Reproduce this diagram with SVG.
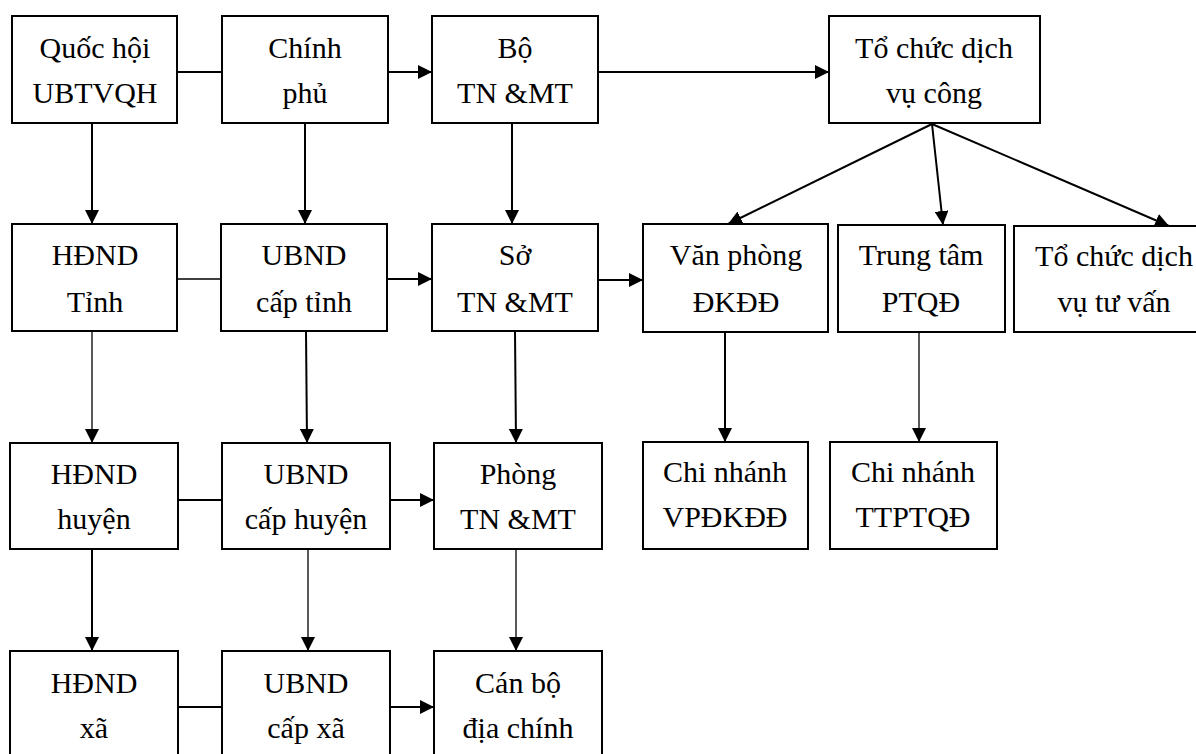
<svg xmlns="http://www.w3.org/2000/svg" width="1196" height="754" viewBox="0 0 1196 754" font-family="Liberation Serif" font-size="30" text-anchor="middle">
<defs>
<style>
.box{fill:#fff;stroke:#000;stroke-width:2}
.c{fill:none;stroke:#000;stroke-width:2}
.thin{fill:none;stroke:#000;stroke-width:1.3}
</style>
<marker id="ah" markerWidth="14" markerHeight="14" viewBox="0 0 14 14" refX="14" refY="7" orient="auto" markerUnits="userSpaceOnUse">
<path d="M0,0 L14,7 L0,14 Z" fill="#000"/>
</marker>
</defs>
<rect width="1196" height="754" fill="#fff"/>
<g id="connectors">
<line class="c" x1="177" y1="72" x2="222" y2="72"/>
<line class="c" x1="388" y1="72" x2="432" y2="72" marker-end="url(#ah)"/>
<line class="c" x1="598" y1="72" x2="829" y2="72" marker-end="url(#ah)"/>
<line class="thin" x1="177" y1="279" x2="221" y2="279"/>
<line class="c" x1="387" y1="279" x2="432" y2="279" marker-end="url(#ah)"/>
<line class="c" x1="598" y1="280" x2="643" y2="280" marker-end="url(#ah)"/>
<line class="c" x1="178" y1="500" x2="222" y2="500"/>
<line class="c" x1="390" y1="500" x2="434" y2="500" marker-end="url(#ah)"/>
<line class="c" x1="178" y1="707" x2="222" y2="707"/>
<line class="c" x1="390" y1="707" x2="434" y2="707" marker-end="url(#ah)"/>
<line class="c" x1="92" y1="123" x2="92" y2="224" marker-end="url(#ah)"/>
<line class="c" x1="305" y1="123" x2="305" y2="224" marker-end="url(#ah)"/>
<line class="c" x1="512" y1="123" x2="512" y2="224" marker-end="url(#ah)"/>
<line class="thin" x1="92" y1="331" x2="92" y2="443" marker-end="url(#ah)"/>
<line class="c" x1="306" y1="331" x2="307" y2="443" marker-end="url(#ah)"/>
<line class="c" x1="515" y1="331" x2="516" y2="443" marker-end="url(#ah)"/>
<line class="c" x1="92" y1="549" x2="92" y2="651" marker-end="url(#ah)"/>
<line class="thin" x1="308" y1="549" x2="308" y2="651" marker-end="url(#ah)"/>
<line class="thin" x1="516" y1="549" x2="516" y2="651" marker-end="url(#ah)"/>
<line class="c" x1="725" y1="332" x2="725" y2="442" marker-end="url(#ah)"/>
<line class="thin" x1="919" y1="332" x2="919" y2="442" marker-end="url(#ah)"/>
<line class="c" x1="932" y1="124" x2="728" y2="224" marker-end="url(#ah)"/>
<line class="c" x1="932" y1="124" x2="943" y2="225" marker-end="url(#ah)"/>
<line class="c" x1="932" y1="124" x2="1169" y2="226" marker-end="url(#ah)"/>
</g>
<g id="quochoi"><rect class="box" x="12" y="16" width="165" height="107"/><text x="95" y="58">Quốc hội</text><text x="95" y="103">UBTVQH</text></g>
<g id="chinhphu"><rect class="box" x="222" y="16" width="166" height="107"/><text x="305" y="58">Chính</text><text x="305" y="103">phủ</text></g>
<g id="botnmt"><rect class="box" x="432" y="16" width="166" height="107"/><text x="515" y="58">Bộ</text><text x="515" y="103">TN &amp;MT</text></g>
<g id="tochucdvc"><rect class="box" x="829" y="16" width="211" height="107"/><text x="934" y="58">Tổ chức dịch</text><text x="934" y="103">vụ công</text></g>
<g id="hdndtinh"><rect class="box" x="12" y="224" width="165" height="107"/><text x="95" y="265">HĐND</text><text x="95" y="312">Tỉnh</text></g>
<g id="ubndtinh"><rect class="box" x="221" y="224" width="166" height="107"/><text x="304" y="265">UBND</text><text x="304" y="312">cấp tỉnh</text></g>
<g id="sotnmt"><rect class="box" x="432" y="224" width="166" height="107"/><text x="515" y="265">Sở</text><text x="515" y="312">TN &amp;MT</text></g>
<g id="vanphong"><rect class="box" x="643" y="224" width="185" height="108"/><text x="736" y="265">Văn phòng</text><text x="736" y="312">ĐKĐĐ</text></g>
<g id="trungtam"><rect class="box" x="838" y="225" width="167" height="107"/><text x="921" y="265">Trung tâm</text><text x="921" y="312">PTQĐ</text></g>
<g id="tochuctuvan"><rect class="box" x="1014" y="226" width="200" height="106"/><text x="1114" y="266">Tổ chức dịch</text><text x="1114" y="312">vụ tư vấn</text></g>
<g id="hdndhuyen"><rect class="box" x="10" y="443" width="168" height="106"/><text x="94" y="484">HĐND</text><text x="94" y="529">huyện</text></g>
<g id="ubndhuyen"><rect class="box" x="222" y="443" width="168" height="106"/><text x="306" y="484">UBND</text><text x="306" y="529">cấp huyện</text></g>
<g id="phongtnmt"><rect class="box" x="434" y="443" width="168" height="106"/><text x="518" y="484">Phòng</text><text x="518" y="529">TN &amp;MT</text></g>
<g id="cnvpdkdd"><rect class="box" x="643" y="442" width="165" height="107"/><text x="725" y="482">Chi nhánh</text><text x="725" y="527">VPĐKĐĐ</text></g>
<g id="cnttptqd"><rect class="box" x="830" y="442" width="167" height="107"/><text x="913" y="482">Chi nhánh</text><text x="913" y="527">TTPTQĐ</text></g>
<g id="hdndxa"><rect class="box" x="10" y="651" width="168" height="120"/><text x="94" y="693">HĐND</text><text x="94" y="738">xã</text></g>
<g id="ubndxa"><rect class="box" x="222" y="651" width="168" height="120"/><text x="306" y="693">UBND</text><text x="306" y="738">cấp xã</text></g>
<g id="canbo"><rect class="box" x="434" y="651" width="168" height="120"/><text x="518" y="693">Cán bộ</text><text x="518" y="738">địa chính</text></g>
</svg>
